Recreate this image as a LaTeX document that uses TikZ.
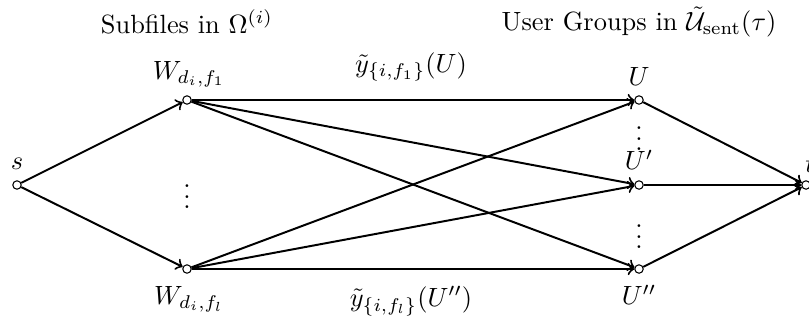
\documentclass[tikz,border=0pt]{standalone}
\usetikzlibrary{arrows}
\begin{document}
\begin{tikzpicture}[x=0.379pt,y=-0.379pt,
  vtx/.style={circle,draw,fill=white,inner sep=0pt,minimum size=3.2pt,line width=0.4pt},
  edge/.style={draw,line width=0.75pt,-to},
  plain/.style={inner sep=0pt}]
\useasboundingbox (0,0) rectangle (809,324);
% vertices
\node[vtx] (s) at (17,185) {};
\node[vtx] (w1) at (187,100) {};
\node[vtx] (wl) at (187,269) {};
\node[vtx] (u1) at (639,100) {};
\node[vtx] (u2) at (639,185) {};
\node[vtx] (u3) at (639,269) {};
\node[vtx] (t) at (806,185) {};
% labels
\node[plain] (ls) at (17,164) {$s$};
\node[plain] (lw1) at (189,74) {$W_{d_i,f_1}$};
\node[plain] (lwl) at (189,299) {$W_{d_i,f_l}$};
\node[plain] (lu1) at (639,76) {$U$};
\node[plain] (lu2) at (639,160) {$U'$};
\node[plain] (lu3) at (639,295) {$U''$};
\node[plain] (lt) at (810,164) {$t$};
\node[plain] (ly1) at (411,67) {$\tilde{y}_{\{i,f_1\}}(U)$};
\node[plain] (ly2) at (411,301) {$\tilde{y}_{\{i,f_l\}}(U'')$};
\node[plain] (t1) at (187,22) {Subfiles in $\Omega^{(i)}$};
\node[plain] (t2) at (639,22) {User Groups in $\tilde{\mathcal{U}}_{\mathrm{sent}}(\tau)$};
\node[plain] (d1) at (187,189) {$\vdots$};
\node[plain] (d2) at (639,131) {$\vdots$};
\node[plain] (d3) at (639,229) {$\vdots$};
% edges
\draw[edge] (s) -- (w1);
\draw[edge] (s) -- (wl);
\foreach \a in {w1,wl}{
  \foreach \b in {u1,u2,u3}{
    \draw[edge] (\a) -- (\b);
  }
}
\draw[edge] (u1) -- (t);
\draw[edge] (u2) -- (t);
\draw[edge] (u3) -- (t);
\end{tikzpicture}
\end{document}
